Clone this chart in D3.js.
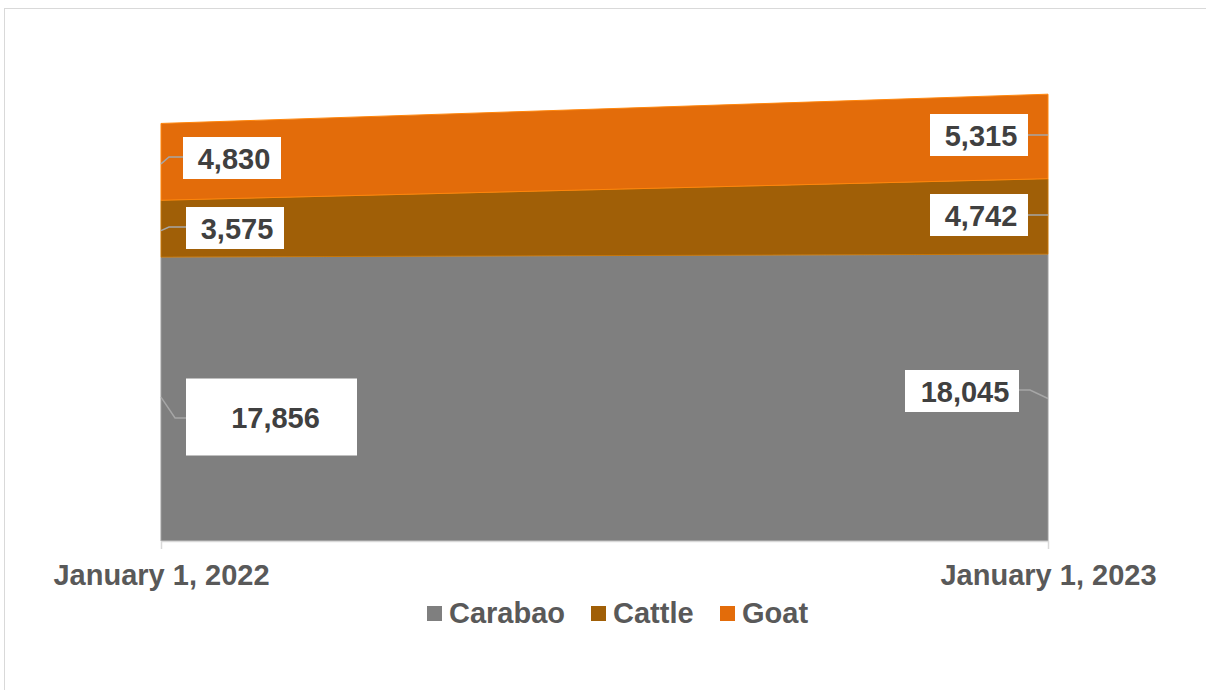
<!DOCTYPE html>
<html><head><meta charset="utf-8">
<script src="https://cdn.jsdelivr.net/npm/d3@7"></script>
<style>html,body{margin:0;padding:0;background:#fff;}svg{display:block;font-family:"Liberation Sans",Arial,sans-serif;}</style>
</head><body>
<svg id="c" width="1206" height="690"></svg>
<script>
const categories = ["January 1, 2022", "January 1, 2023"];
const seriesNames = ["Carabao", "Cattle", "Goat"];
const carabao = [17856, 18045];
const cattle = [3575, 4742];
const goat = [4830, 5315];
const colors = ["#7f7f7f", "#a05f07", "#e36c0a"];

const svg = d3.select("#c");
svg.append("rect").attr("x",4.5).attr("y",8.5).attr("width",1210).attr("height",700)
  .attr("fill","#fff").attr("stroke","#d9d9d9");

const left = 161, right = 1048, bottom = 541;
const x = d3.scalePoint().domain(categories).range([left, right]);
const y = d3.scaleLinear().domain([0, 30000]).range([bottom, 64]);

const rows = categories.map((c,i)=>({cat:c, Carabao:carabao[i], Cattle:cattle[i], Goat:goat[i]}));
const stacked = d3.stack().keys(seriesNames)(rows);

const area = d3.area().x(d=>x(d.data.cat)).y0(d=>y(d[0])).y1(d=>y(d[1]));
svg.append("g").selectAll("path").data(stacked).join("path")
  .attr("d", area).attr("fill",(d,i)=>colors[i])
  .attr("stroke",(d,i)=>d3.color(colors[i]).brighter(0.6)).attr("stroke-width",1);

// axis
const ax = svg.append("g").attr("transform",`translate(0,${bottom})`)
  .call(d3.axisBottom(x).tickSize(8).tickPadding(14));
ax.select(".domain").attr("stroke","#d9d9d9").attr("stroke-width",1.5);
ax.selectAll(".tick line").attr("stroke","#d9d9d9");
ax.selectAll(".tick text").attr("font-size",29).attr("font-weight","bold").attr("fill","#595959")
  .attr("font-family","Liberation Sans, Arial, sans-serif").attr("dy",null).attr("y",44);

// labels: layout offsets per series/point
const fmt = d3.format(",");
const layout = {
  "Carabao": [{bx:186,bw:171,bh:77,cy:417,lead:"diag",tx:4},{bx:905,bw:114,bh:42,cy:391,lead:"diag",tx:3}],
  "Cattle":  [{bx:186,bw:98,bh:42,cy:228,lead:"flat",tx:2},{bx:930,bw:98,bh:42,cy:215,lead:"flat",tx:2}],
  "Goat":    [{bx:183,bw:98,bh:42,cy:158,lead:"flat",tx:2},{bx:930,bw:98,bh:42,cy:135,lead:"flat",tx:2}]
};
const lg = svg.append("g");
stacked.forEach(s=>{
  s.forEach((d,i)=>{
    const L = layout[s.key][i];
    const px = x(d.data.cat), py = y((d[0]+d[1])/2);
    const top = L.cy - L.bh/2;
    let pts;
    if (i===0) {
      pts = L.lead==="diag" ? [[px,py-2],[px+14,L.cy+1],[L.bx,L.cy+1]] : [[px,py+2],[px+8,L.cy-1],[L.bx,L.cy-1]];
    } else {
      const bxr = L.bx+L.bw;
      pts = L.lead==="diag" ? [[bxr,L.cy-1],[bxr+11,L.cy-1],[px,py+1]] : [[bxr,L.cy],[px,L.cy]];
    }
    lg.append("path").attr("d", d3.line()(pts)).attr("fill","none").attr("stroke","#a6a6a6").attr("stroke-width",1.5);
    lg.append("rect").attr("x",L.bx).attr("y",top).attr("width",L.bw).attr("height",L.bh).attr("fill","#fff");
    lg.append("text").attr("x",L.bx+L.bw/2+L.tx).attr("y",L.cy+11).attr("text-anchor","middle")
      .attr("font-size",29).attr("font-weight","bold").attr("fill","#404040")
      .text(fmt(d.data[s.key]));
  });
});

// legend
const legX = [427, 591, 720];
const leg = svg.append("g");
seriesNames.forEach((n,i)=>{
  leg.append("rect").attr("x",legX[i]).attr("y",606).attr("width",15).attr("height",15).attr("fill",colors[i]);
  leg.append("text").attr("x",legX[i]+22).attr("y",623).attr("font-size",29).attr("font-weight","bold")
    .attr("fill","#595959").text(n);
});
</script>
</body></html>
